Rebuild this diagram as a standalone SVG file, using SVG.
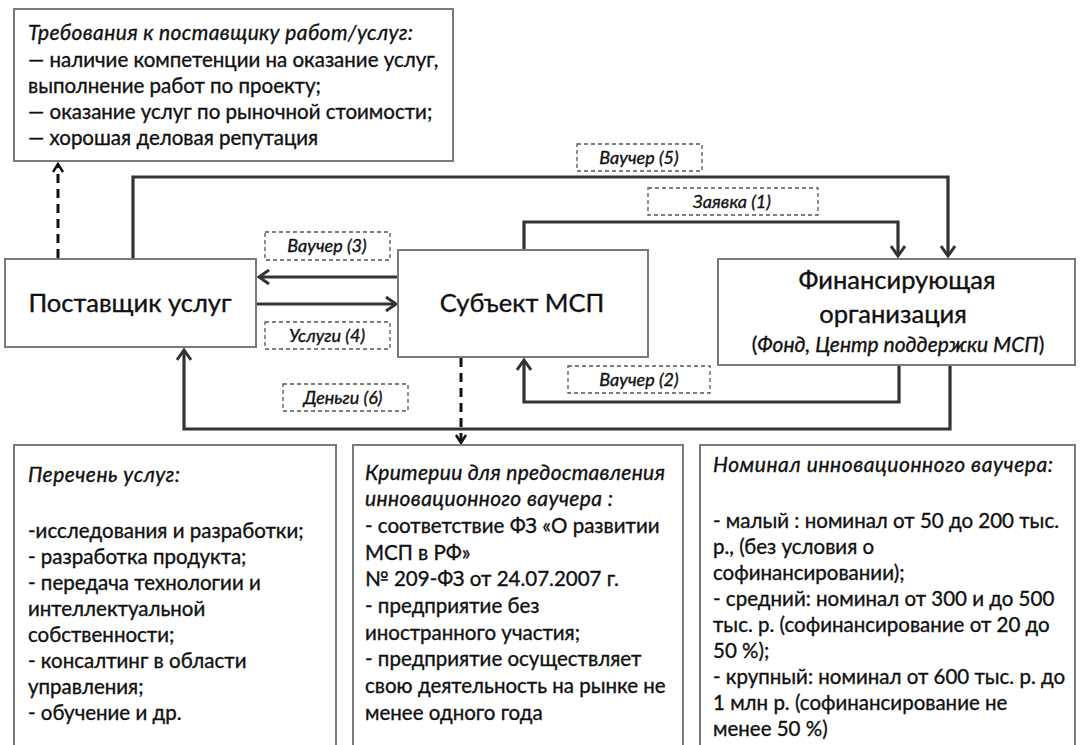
<svg xmlns="http://www.w3.org/2000/svg" width="1080" height="745" viewBox="0 0 1080 745">
<defs>
<style>
.box{fill:#fff;stroke:#7a7a7a;stroke-width:2}
.lbl{fill:#fff;stroke:#555;stroke-width:1.3;stroke-dasharray:4,3}
.con{fill:none;stroke:#333;stroke-width:3.2}
.dash{fill:none;stroke:#111;stroke-width:3;stroke-dasharray:9,6}
text{font-family:Lato,"Liberation Sans",sans-serif;fill:#111;stroke:#111;stroke-width:0.35}
.t{font-size:20.5px}
.i{font-style:italic;font-size:21px}
.big{font-size:25.5px}
.small{font-size:18px;font-style:italic}
.mid{text-anchor:middle}
</style>
<marker id="ah" markerWidth="16" markerHeight="16" viewBox="-12 -8 14 16" refX="0" refY="0" orient="auto" markerUnits="userSpaceOnUse">
<path d="M-10,-7 L0,0 L-10,7" fill="none" stroke="#333" stroke-width="3"/>
</marker>
<marker id="ahk" markerWidth="16" markerHeight="16" viewBox="-12 -8 14 16" refX="0" refY="0" orient="auto" markerUnits="userSpaceOnUse">
<path d="M-8,-5 L0,0 L-8,5" fill="none" stroke="#111" stroke-width="2.5"/>
</marker>
</defs>
<rect width="1080" height="745" fill="#fff"/>

<g id="connectors">
<path class="con" d="M133,259 V177 H948 V256" marker-end="url(#ah)"/>
<path class="con" d="M524,250 V222 H898 V256" marker-end="url(#ah)"/>
<path class="con" d="M398,277 H259" marker-end="url(#ah)"/>
<path class="con" d="M257,304 H396" marker-end="url(#ah)"/>
<path class="con" d="M899,366 V402 H524 V360" marker-end="url(#ah)"/>
<path class="con" d="M950,366 V429 H184 V350" marker-end="url(#ah)"/>
<path class="dash" d="M58,258 V164" marker-end="url(#ahk)"/>
<path class="dash" d="M461,358 V443" marker-end="url(#ahk)"/>
</g>

<g id="requirements">
<rect class="box" x="14" y="9" width="439" height="152"/>
<text class="i" x="28" y="40" textLength="385" lengthAdjust="spacing">Требования к поставщику работ/услуг:</text>
<text class="t" x="28" y="67">— наличие компетенции на оказание услуг,</text>
<text class="t" x="28" y="93">выполнение работ по проекту;</text>
<text class="t" x="28" y="119">— оказание услуг по рыночной стоимости;</text>
<text class="t" x="28" y="145">— хорошая деловая репутация</text>
</g>

<g id="supplier">
<rect class="box" x="5" y="259" width="251" height="88"/>
<text class="big mid" x="130" y="312">Поставщик услуг</text>
</g>

<g id="sme">
<rect class="box" x="398" y="250" width="250" height="107"/>
<text class="big mid" x="522" y="312">Субъект МСП</text>
</g>

<g id="financing">
<rect class="box" x="718" y="259" width="357" height="106"/>
<text class="big mid" x="897" y="289">Финансирующая</text>
<text class="big mid" x="893" y="323">организация</text>
<text class="mid" x="898" y="352" style="font-size:21px">(<tspan style="font-style:italic">Фонд, Центр поддержки МСП</tspan>)</text>
</g>

<g id="label-v5">
<rect class="lbl" x="577" y="144" width="125" height="27"/>
<text class="small mid" x="639" y="164">Ваучер (5)</text>
</g>
<g id="label-z1">
<rect class="lbl" x="648" y="188" width="170" height="27"/>
<text class="small mid" x="732" y="208">Заявка (1)</text>
</g>
<g id="label-v3">
<rect class="lbl" x="265" y="232" width="125" height="28"/>
<text class="small mid" x="327" y="252">Ваучер (3)</text>
</g>
<g id="label-u4">
<rect class="lbl" x="265" y="322" width="125" height="27"/>
<text class="small mid" x="327" y="342">Услуги (4)</text>
</g>
<g id="label-d6">
<rect class="lbl" x="283" y="384" width="125" height="27"/>
<text class="small mid" x="343" y="404">Деньги (6)</text>
</g>
<g id="label-v2">
<rect class="lbl" x="568" y="366" width="142" height="27"/>
<text class="small mid" x="639" y="386">Ваучер (2)</text>
</g>

<g id="services">
<rect class="box" x="14" y="445" width="322" height="305"/>
<text class="i" x="28" y="482" textLength="152" lengthAdjust="spacing">Перечень услуг:</text>
<text class="t" x="28" y="538">-исследования и разработки;</text>
<text class="t" x="28" y="564">- разработка продукта;</text>
<text class="t" x="28" y="590">- передача технологии и</text>
<text class="t" x="28" y="616">интеллектуальной</text>
<text class="t" x="28" y="642">собственности;</text>
<text class="t" x="28" y="668">- консалтинг в области</text>
<text class="t" x="28" y="694">управления;</text>
<text class="t" x="28" y="720">- обучение и др.</text>
</g>

<g id="criteria">
<rect class="box" x="353" y="445" width="330" height="305"/>
<text class="i" x="365" y="480" textLength="300" lengthAdjust="spacing">Критерии для предоставления</text>
<text class="i" x="365" y="506" textLength="248" lengthAdjust="spacing">инновационного ваучера :</text>
<text class="t" x="365" y="533">-  соответствие ФЗ «О развитии</text>
<text class="t" x="365" y="560">МСП в РФ»</text>
<text class="t" x="365" y="586">№ 209-ФЗ от 24.07.2007 г.</text>
<text class="t" x="365" y="613">- предприятие без</text>
<text class="t" x="365" y="640">иностранного участия;</text>
<text class="t" x="365" y="666">- предприятие осуществляет</text>
<text class="t" x="365" y="693">свою деятельность на рынке не</text>
<text class="t" x="365" y="720">менее одного года</text>
</g>

<g id="nominal">
<rect class="box" x="700" y="445" width="375" height="305"/>
<text class="i" x="713" y="472" textLength="340" lengthAdjust="spacing">Номинал инновационного ваучера:</text>
<text class="t" x="713" y="528">- малый : номинал от 50 до 200 тыс.</text>
<text class="t" x="713" y="554">р., (без условия о</text>
<text class="t" x="713" y="580">софинансировании);</text>
<text class="t" x="713" y="606">- средний: номинал от 300 и до 500</text>
<text class="t" x="713" y="632">тыс. р. (софинансирование от 20 до</text>
<text class="t" x="713" y="658">50 %);</text>
<text class="t" x="713" y="684">- крупный: номинал от 600 тыс. р. до</text>
<text class="t" x="713" y="710">1 млн р. (софинансирование не</text>
<text class="t" x="713" y="736">менее 50 %)</text>
</g>
</svg>
